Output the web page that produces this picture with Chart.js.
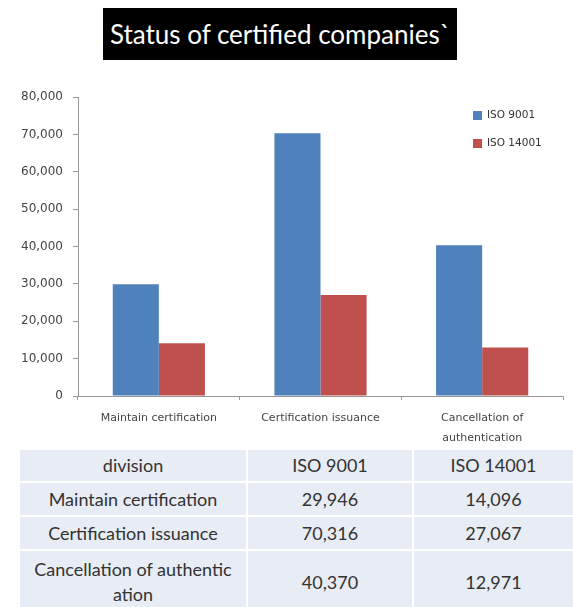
<!DOCTYPE html>
<html>
<head>
<meta charset="utf-8">
<script src="https://cdn.jsdelivr.net/npm/chart.js@4/dist/chart.umd.min.js"></script>
<style>
  body { margin: 0; background: #fff; width: 573px; height: 607px; overflow: hidden; position: relative; font-family: Lato, sans-serif; }
  #title { position: absolute; left: 103px; top: 8px; width: 354px; height: 52px; background: #000; color: #fff;
           font-size: 26px; line-height: 52px; text-align: center; }
  #chart-box { position: absolute; left: 0; top: 80px; width: 573px; height: 365px; }
  #tbl { position: absolute; left: 20px; top: 450px; width: 553px; border-collapse: collapse; color: #333; font-size: 18px; }
  #tbl td { background: #e8ecf4; text-align: center; border-bottom: 2px solid #fff; border-left: 2px solid #fff; padding: 0; line-height: 25px; }
  #tbl td:first-child { border-left: none; }
</style>
</head>
<body>
<div id="title">Status of certified companies`</div>
<div id="chart-box"><canvas id="vizune-chart-slot" width="573" height="365"></canvas></div>
<table id="tbl"></table>
<script>
const categories = ['Maintain certification', 'Certification issuance', ['Cancellation of', 'authentication']];
const tableRowLabels = ['Maintain certification', 'Certification issuance', 'Cancellation of authentic<br>ation'];
const seriesNames = ['ISO 9001', 'ISO 14001'];
const iso9001 = [29946, 70316, 40370];
const iso14001 = [14096, 27067, 12971];
const colors = ['#4F81BD', '#C0504D'];

// table under the chart
const tbl = document.getElementById('tbl');
const rowHeights = [31, 32, 32, 62];
let html = '<tr><td style="width:226px;height:' + rowHeights[0] + 'px">division</td><td style="width:164px">' + seriesNames[0] + '</td><td>' + seriesNames[1] + '</td></tr>';
tableRowLabels.forEach((lab, i) => {
  html += '<tr><td style="height:' + rowHeights[i + 1] + 'px">' + lab + '</td><td>' + iso9001[i].toLocaleString('en-US') + '</td><td>' + iso14001[i].toLocaleString('en-US') + '</td></tr>';
});
tbl.innerHTML = html;

// small legend drawn inside the plot, top right
const sideLegend = {
  id: 'sideLegend',
  afterDraw(chart) {
    const c = chart.ctx;
    c.save();
    c.font = '10.5px "DejaVu Sans"';
    c.textBaseline = 'middle';
    chart.data.datasets.forEach((ds, i) => {
      const y = 35 + i * 28;
      c.fillStyle = ds.backgroundColor;
      c.fillRect(473, y - 4, 9, 9);
      c.fillStyle = '#333';
      c.fillText(ds.label, 487, y);
    });
    c.restore();
  }
};

Chart.defaults.font.family = '"DejaVu Sans", sans-serif';
Chart.defaults.color = '#444';

const ctx = document.getElementById('vizune-chart-slot');
new Chart(ctx, {
  type: 'bar',
  data: {
    labels: categories,
    datasets: [
      { label: seriesNames[0], data: iso9001, backgroundColor: colors[0] },
      { label: seriesNames[1], data: iso14001, backgroundColor: colors[1] }
    ]
  },
  options: {
    responsive: false,
    animation: false,
    layout: { padding: { top: 16, right: 10, left: 0, bottom: 0 } },
    plugins: { legend: { display: false }, tooltip: { enabled: false } },
    datasets: { bar: { barPercentage: 1, categoryPercentage: 0.57 } },
    scales: {
      x: {
        afterFit(s) { s.height = 49; },
        border: { color: '#999' },
        grid: { drawOnChartArea: false, tickLength: 4, color: '#999' },
        ticks: { font: { size: 11, lineHeight: 1.8 }, padding: 8, maxRotation: 0, color: '#444' }
      },
      y: {
        min: 0, max: 80000,
        afterFit(s) { s.width = 78; },
        border: { color: '#999' },
        grid: { drawOnChartArea: false, tickLength: 5, color: '#999' },
        ticks: { stepSize: 10000, font: { size: 12 }, padding: 10, color: '#444',
                 callback: v => v.toLocaleString('en-US') }
      }
    }
  },
  plugins: [sideLegend]
});
</script>
</body>
</html>
